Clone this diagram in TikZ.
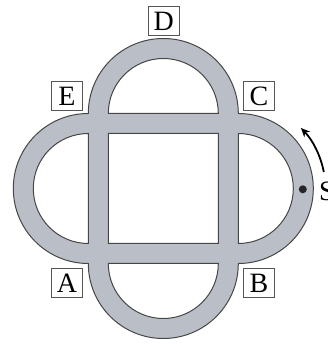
\documentclass[tikz,border=0pt]{standalone}
\usepackage{fontspec}
\setmainfont{Liberation Serif}
\usetikzlibrary{arrows.meta}
\definecolor{ringfill}{RGB}{186,191,199}
\definecolor{ringline}{RGB}{70,70,70}
\definecolor{boxline}{RGB}{85,85,85}
\tikzset{
  lbl/.style={draw=boxline, line width=1pt, fill=white, minimum width=31pt, minimum height=29pt, inner sep=0pt, font=\fontsize{28}{28}\selectfont},
  ring/.style={fill=ringfill, draw=ringline, line width=1pt, even odd rule},
}
\begin{document}
\begin{tikzpicture}[x=1pt,y=1pt]
\useasboundingbox (0,0) rectangle (328,345);
\begin{scope}[shift={(163.3,156.5)}]
\path[ring]
  (-75,75) arc[start angle=180,end angle=0,radius=75]
           arc[start angle=90,end angle=-90,radius=75]
           arc[start angle=0,end angle=-180,radius=75]
           arc[start angle=-90,end angle=-270,radius=75] -- cycle
  (-55,-55) rectangle (55,55)
  (-55,75) arc[start angle=180,end angle=0,radius=55] -- cycle
  (75,55) arc[start angle=90,end angle=-90,radius=55] -- cycle
  (55,-75) arc[start angle=0,end angle=-180,radius=55] -- cycle
  (-75,-55) arc[start angle=-90,end angle=-270,radius=55] -- cycle;
\node[lbl] (D) at (0.4,167.5) {D};
\node[lbl] (E) at (-96.3,92.5) {E};
\node[lbl] (C) at (95.7,92.5) {C};
\node[lbl] (A) at (-96.3,-94.5) {A};
\node[lbl] (B) at (95.7,-94.5) {B};
\node[circle, fill=black!85, inner sep=0pt, minimum size=8pt] (dot) at (139.5,-0.8) {};
\node[anchor=base west, inner sep=0pt, font=\fontsize{28}{28}\selectfont] (S) at (155.5,-12) {S};
\coordinate (arrowstart) at (160.5,16.5);
\draw[line width=1.8pt, -{Stealth[length=9pt,width=8pt]}] (arrowstart) arc[start angle=10.9,end angle=44,radius=87];
\end{scope}
\end{tikzpicture}
\end{document}
